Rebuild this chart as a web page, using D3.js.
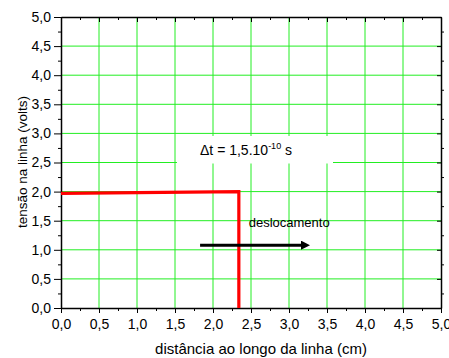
<!DOCTYPE html>
<html>
<head>
<meta charset="utf-8">
<script src="https://cdn.jsdelivr.net/npm/d3@7"></script>
<style>
  body { margin: 0; background: #fff; }
  text { font-family: "Liberation Sans", Arial, sans-serif; fill: #000; }
</style>
</head>
<body>
<div id="chart"></div>
<script>
// pulse front: voltage along the line
var pulseX = [0, 2.34, 2.34];
var pulseV = [1.97, 2.0, 0];
// displacement arrow
var arrowX = [1.83, 3.36];
var arrowV = [1.08, 1.08];
var tickVals = [0, 0.5, 1, 1.5, 2, 2.5, 3, 3.5, 4, 4.5, 5];
var minorVals = [0.25, 0.75, 1.25, 1.75, 2.25, 2.75, 3.25, 3.75, 4.25, 4.75];
var fmt = function(d){ return d3.format(".1f")(d).replace(".", ","); };

var width = 449, height = 358,
    margin = {top: 17, right: 8, bottom: 50, left: 61};

var svg = d3.select("#chart").append("svg")
  .attr("width", width)
  .attr("height", height);

var x = d3.scaleLinear().domain([0, 5]).range([margin.left, width - margin.right]);
var y = d3.scaleLinear().domain([0, 5]).range([height - margin.bottom, margin.top]);

// grid
var grid = svg.append("g").attr("stroke", "#22ee22").attr("stroke-width", 1);
grid.selectAll(".gx").data(tickVals.slice(1, -1)).enter().append("line")
  .attr("x1", d => x(d)).attr("x2", d => x(d))
  .attr("y1", y(0)).attr("y2", y(5));
grid.selectAll(".gy").data(tickVals.slice(1, -1)).enter().append("line")
  .attr("y1", d => y(d)).attr("y2", d => y(d))
  .attr("x1", x(0)).attr("x2", x(5));

// label box over grid
svg.append("rect")
  .attr("x", 177).attr("y", 136)
  .attr("width", 156).attr("height", 27.5)
  .attr("fill", "#fff");

var lab = svg.append("text").attr("x", 200).attr("y", 155).style("font-size", "14px");
lab.append("tspan").text("\u0394t = 1,5.10");
lab.append("tspan").attr("dy", -6).style("font-size", "9px").text("-10");
lab.append("tspan").attr("dy", 6).text(" s");

// axes
function styleAxis(g){
  g.select(".domain").attr("stroke-width", 1.5);
  g.selectAll("text").style("font-size", "14px");
}
svg.append("g").attr("transform", "translate(0," + y(0) + ")")
  .call(d3.axisBottom(x).tickValues(tickVals).tickFormat(fmt).tickSize(5).tickSizeOuter(0).tickPadding(6))
  .call(styleAxis);
svg.append("g").attr("transform", "translate(0," + y(0) + ")")
  .call(d3.axisBottom(x).tickValues(minorVals).tickFormat("").tickSize(3).tickSizeOuter(0))
  .call(g => g.select(".domain").remove());
svg.append("g").attr("transform", "translate(" + x(0) + ",0)")
  .call(d3.axisLeft(y).tickValues(tickVals).tickFormat(fmt).tickSize(7).tickSizeOuter(0).tickPadding(3))
  .call(styleAxis);
svg.append("g").attr("transform", "translate(" + x(0) + ",0)")
  .call(d3.axisLeft(y).tickValues(minorVals).tickFormat("").tickSize(3).tickSizeOuter(0))
  .call(g => g.select(".domain").remove());
svg.append("g").attr("transform", "translate(0," + y(5) + ")")
  .call(d3.axisTop(x).tickValues(tickVals).tickFormat("").tickSize(-5).tickSizeOuter(0))
  .call(styleAxis);
svg.append("g").attr("transform", "translate(0," + y(5) + ")")
  .call(d3.axisTop(x).tickValues(minorVals).tickFormat("").tickSize(-3).tickSizeOuter(0))
  .call(g => g.select(".domain").remove());
svg.append("g").attr("transform", "translate(" + x(5) + ",0)")
  .call(d3.axisRight(y).tickValues(tickVals).tickFormat("").tickSize(-4).tickSizeOuter(0))
  .call(styleAxis);
svg.append("g").attr("transform", "translate(" + x(5) + ",0)")
  .call(d3.axisRight(y).tickValues(minorVals).tickFormat("").tickSize(3).tickSizeOuter(0))
  .call(g => g.select(".domain").remove());

// pulse
var line = d3.line().x(d => x(d[0])).y(d => y(d[1]));
svg.append("path")
  .datum(d3.zip(pulseX, pulseV))
  .attr("d", line)
  .attr("fill", "none")
  .attr("stroke", "#ff0000")
  .attr("stroke-width", 3.2);

// arrow
svg.append("defs").append("marker")
  .attr("id", "head")
  .attr("viewBox", "0 0 10 10")
  .attr("refX", 1).attr("refY", 5)
  .attr("markerWidth", 5).attr("markerHeight", 3)
  .attr("markerUnits", "strokeWidth")
  .attr("orient", "auto")
  .append("path").attr("d", "M0,0L10,5L0,10Z").attr("fill", "#000");
svg.append("path")
  .datum(d3.zip([arrowX[0], arrowX[1] - 0.19], arrowV))
  .attr("d", line)
  .attr("stroke", "#000")
  .attr("stroke-width", 3)
  .attr("marker-end", "url(#head)");

svg.append("text")
  .attr("x", x(2.47)).attr("y", 226.7)
  .style("font-size", "13px")
  .text("deslocamento");

// axis titles
svg.append("text")
  .attr("x", 261).attr("y", 354)
  .attr("text-anchor", "middle")
  .style("font-size", "15px")
  .text("distância ao longo da linha (cm)");
svg.append("text")
  .attr("transform", "translate(27,162) rotate(-90)")
  .attr("text-anchor", "middle")
  .style("font-size", "13.5px")
  .text("tensão na linha (volts)");
</script>
</body>
</html>
